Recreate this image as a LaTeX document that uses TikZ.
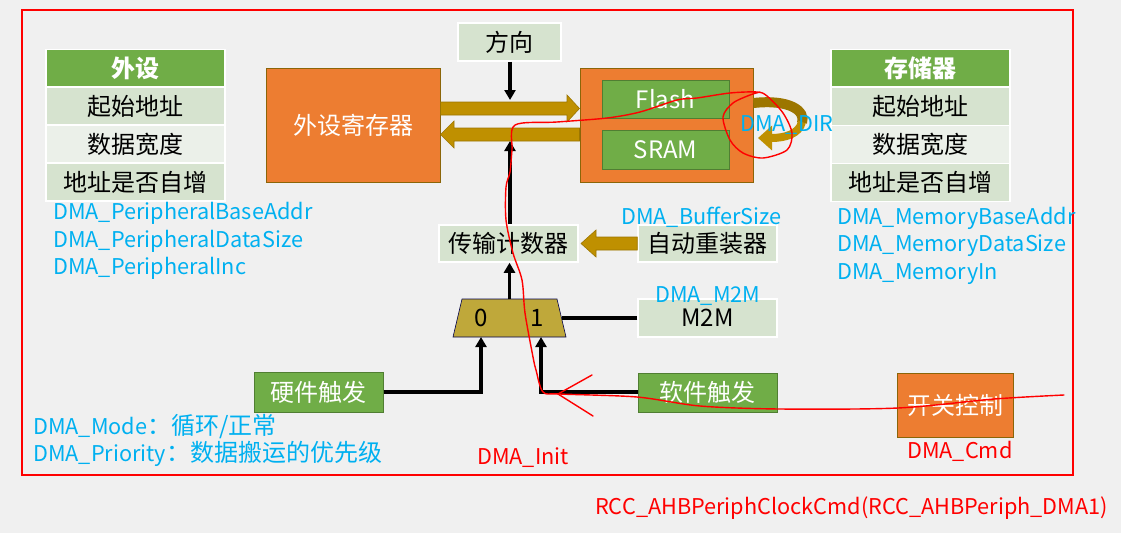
\documentclass[tikz,border=0pt]{standalone}
\usepackage{fontspec}
\setmainfont{Noto Sans CJK SC}
\usetikzlibrary{arrows.meta,shapes.geometric,calc}
\definecolor{bgc}{HTML}{F0F0F0}
\definecolor{grn}{HTML}{70AD47}
\definecolor{grnb}{HTML}{507E32}
\definecolor{lgA}{HTML}{D6E3CF}
\definecolor{lgB}{HTML}{EBF0E9}
\definecolor{org}{HTML}{ED7D31}
\definecolor{orgb}{HTML}{8B6508}
\definecolor{gold}{HTML}{BF9000}
\definecolor{goldb}{HTML}{9C7600}
\definecolor{muxc}{HTML}{BFA83A}
\definecolor{blu}{HTML}{00B0F0}
\definecolor{rd}{HTML}{FF0000}
\newcommand\cjkbig{\fontsize{24}{28}\selectfont}
\tikzset{
  hdr/.style={fill=grn, draw=white, line width=1.5pt, text=white, font=\fontsize{24}{28}\selectfont\bfseries, minimum width=179pt, minimum height=37pt, inner sep=0pt},
  rowA/.style={fill=lgA, draw=white, line width=1.5pt, minimum width=179pt, minimum height=38pt, inner sep=0pt},
  rowB/.style={fill=lgB, draw=white, line width=1.5pt, minimum width=179pt, minimum height=38pt, inner sep=0pt},
  obox/.style={fill=org, draw=orgb, line width=1pt, text=white, inner sep=0pt},
  gbox/.style={fill=grn, draw=grnb, line width=1pt, text=white, inner sep=0pt},
  lbox/.style={fill=lgA, draw=white, line width=1.5pt, inner sep=0pt},
  bl/.style={text=blu, inner sep=0pt, anchor=west, font=\fontsize{21.7}{26}\selectfont},
  rl/.style={text=rd, inner sep=0pt, anchor=west, font=\fontsize{21.7}{26}\selectfont},
  conn/.style={line width=3.5pt, black},
  conna/.style={conn, -{Triangle[length=10pt,width=11pt]}},
  fat/.style={fill=gold, draw=goldb, line width=0.6pt},
  hand/.style={rd, line width=1.4pt, line cap=round, line join=round}
}
\begin{document}
\begin{tikzpicture}[x=1pt,y=-1pt,font=\fontsize{24}{28}\selectfont]
\fill[bgc] (0,0) rectangle (1121,533);
\useasboundingbox (0,0) rectangle (1121,533);
\draw[rd, line width=2.5pt] (22,10) rectangle (1073,475);

% left table
\node[hdr] (ph) at (135.5,68) {外设};
\node[rowA] (p1) at (135.5,106) {起始地址};
\node[rowB] (p2) at (135.5,144) {数据宽度};
\node[rowA] (p3) at (135.5,182) {地址是否自增};
% right table
\node[hdr] (mh) at (920.5,68) {存储器};
\node[rowA] (m1) at (920.5,106.5) {起始地址};
\node[rowB] (m2) at (920.5,144.5) {数据宽度};
\node[rowA] (m3) at (920.5,182.5) {地址是否自增};

% main blocks
\node[obox, minimum width=174pt, minimum height=114pt] (reg) at (353,125) {外设寄存器};
\node[lbox, minimum width=103pt, minimum height=38pt] (dir) at (509.5,42) {方向};
\node[obox, minimum width=173pt, minimum height=114pt] (mem) at (666.5,125) {};
\node[gbox, minimum width=127pt, minimum height=38pt] (flash) at (665.5,99) {Flash};
\node[gbox, minimum width=127pt, minimum height=39pt] (sram) at (665.5,149.5) {SRAM};
\node[lbox, minimum width=139pt, minimum height=37pt] (cnt) at (508.5,243.5) {传输计数器};
\node[lbox, minimum width=139pt, minimum height=37pt] (rld) at (707.5,243.5) {自动重装器};
\filldraw[fill=muxc, draw=black!70!blue, line width=0.6pt] (453,337) -- (462,299) -- (557,299) -- (566,337) -- cycle;
\coordinate (muxtop) at (509.5,299);
\node[inner sep=0pt] (in0) at (481,318) {0};
\node[inner sep=0pt] (in1) at (537,318) {1};
\node[lbox, minimum width=139pt, minimum height=38pt] (m2m) at (707.5,318) {M2M};
\node[gbox, minimum width=129pt, minimum height=40pt] (hw) at (318.5,392) {硬件触发};
\node[gbox, minimum width=139pt, minimum height=39pt] (sw) at (707.5,392.5) {软件触发};
\node[obox, minimum width=116pt, minimum height=64pt] (sc) at (955,405) {开关控制};

% fat arrows
\fill[fat] (reg.east |- 0,102) -- (567,102) -- (567,95) -- (mem.west |- 0,108.5) -- (567,122) -- (567,115) -- (reg.east |- 0,115) -- cycle;
\fill[fat] (mem.west |- 0,128) -- (454,128) -- (454,121) -- (reg.east |- 0,134.5) -- (454,148) -- (454,141) -- (mem.west |- 0,141) -- cycle;
\fill[fat] (rld.west |- 0,237) -- (596,237) -- (596,230) -- (581,243.5) -- (596,257) -- (596,250) -- (rld.west |- 0,250) -- cycle;

% DMA_DIR curved arrow
\draw[goldb, line width=10pt] (mem.east |- 0,103) .. controls (790,99) and (806,111) .. (802,123);
\draw[gold, line width=8pt, -{Triangle[length=14pt,width=24pt]}] (802,122) .. controls (799,134) and (785,138) .. (758,138);

% connectors
\coordinate (dirin) at (510,100);
\coordinate (cntup) at (510,141);
\coordinate (m0) at (481,337);
\coordinate (m1in) at (541,337);
\coordinate (mr) at (561.5,318);
\draw[conna] (dir.south -| dirin) -- (dirin);
\draw[conna] (cnt.north -| cntup) -- (cntup);
\draw[conna] (muxtop) -- (muxtop |- cnt.south);
\draw[conn] (m2m.west) -- (mr);
\draw[conna] (hw.east) -| (m0);
\draw[conna] (sw.west |- 0,392) -| (m1in);

% labels
\node[bl] (l1) at (53,213) {DMA\_PeripheralBaseAddr};
\node[bl] (l2) at (53,241) {DMA\_PeripheralDataSize};
\node[bl] (l3) at (53,268) {DMA\_PeripheralInc};
\node[bl] (l4) at (837,218) {DMA\_MemoryBaseAddr};
\node[bl] (l5) at (837,246) {DMA\_MemoryDataSize};
\node[bl] (l6) at (837,274) {DMA\_MemoryIn};
\node[bl] (l7) at (621,217) {DMA\_BufferSize};
\node[bl] (l8) at (655,296) {DMA\_M2M};
\node[bl] (l9) at (740,125) {DMA\_DIR};
\node[bl] (l10) at (33,427) {DMA\_Mode{\cjkbig：循环/正常}};
\node[bl] (l11) at (33,454) {DMA\_Priority{\cjkbig：数据搬运的优先级}};
\node[rl] (r1) at (477,458) {DMA\_Init};
\node[rl] (r2) at (907,451) {DMA\_Cmd};
\node[rl] (r3) at (595,508) {RCC\_AHBPeriphClockCmd(RCC\_AHBPeriph\_DMA1)};

% hand-drawn annotation
\draw[hand] plot[smooth, tension=0.5] coordinates {(1064,395) (994,399) (898,408) (780,409) (700,406) (637,397) (560,394) (543,392) (536,370) (533,357) (525,313) (522,280) (513,253) (506,220) (506,187) (510,172) (512,150) (515,125) (557,122) (607,118) (640,112) (677,100) (697,98) (730,93) (757,92) (767,96) (783,113) (792,133) (787,150) (763,158) (743,153) (730,140) (723,117) (733,103) (750,95) (760,92)};
\coordinate (ah) at (558,394);
\draw[hand] (ah) -- (592,375);
\draw[hand] (ah) -- (593,416);
\end{tikzpicture}
\end{document}
